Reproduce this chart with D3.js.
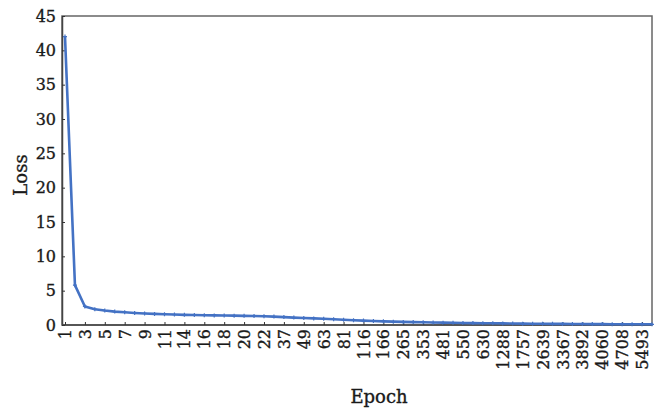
<!DOCTYPE html>
<html><head><meta charset="utf-8">
<script src="https://cdn.jsdelivr.net/npm/d3@7"></script>
<style>body{margin:0;background:#fff}svg text{font-family:"DejaVu Serif",serif;fill:#1a1a1a;stroke:#1a1a1a;stroke-width:0.35px}</style>
</head><body><svg id="c" width="663" height="410"></svg>
<script>
const epochs = [1,2,3,4,5,6,7,8,9,10,11,12,14,15,16,17,18,19,20,21,22,30,37,43,49,56,63,72,81,98,116,140,166,210,265,310,353,420,481,515,550,590,630,950,1288,1500,1757,2200,2639,3000,3367,3600,3892,3980,4060,4400,4708,5100,5493,5800];
const loss = [42.0,5.8,2.7,2.3,2.1,1.95,1.85,1.75,1.68,1.62,1.56,1.52,1.48,1.45,1.42,1.40,1.38,1.36,1.33,1.31,1.28,1.22,1.15,1.08,1.02,0.96,0.90,0.83,0.76,0.70,0.64,0.58,0.53,0.49,0.45,0.42,0.39,0.36,0.34,0.32,0.30,0.28,0.26,0.25,0.23,0.22,0.20,0.19,0.18,0.17,0.16,0.15,0.14,0.13,0.13,0.12,0.12,0.11,0.11,0.10];
const yTicks = [0,5,10,15,20,25,30,35,40,45];
const xLabelEvery = 2;

const svg = d3.select("#c");
const L = 62, R = 652, T = 16, B = 325;
const x = d3.scalePoint().domain(epochs.map(String)).range([65, R]);
const y = d3.scaleLinear().domain([0,45]).range([B, T]);

// frame
svg.append("rect").attr("x",L).attr("y",T).attr("width",R-L).attr("height",B-T)
  .attr("fill","none").attr("stroke","#666").attr("stroke-width",1.5);

const xAxis = d3.axisBottom(x).tickSizeInner(-3).tickSizeOuter(0)
  .tickValues(epochs.filter((d,i)=>i%xLabelEvery===0).map(String));
const gx = svg.append("g").attr("transform",`translate(0,${B})`).call(xAxis);
gx.select(".domain").attr("stroke","#444").attr("stroke-width",1.5).attr("d",`M${L},0H${R}`);
gx.selectAll(".tick line").attr("stroke","#333");
gx.selectAll(".tick text").attr("transform","rotate(-90)").attr("text-anchor","end")
  .attr("x",-4).attr("y",0).attr("dy","0.35em").style("font-size","16px");

const yAxis = d3.axisLeft(y).tickValues(yTicks).tickSizeInner(-3).tickSizeOuter(0);
const gy = svg.append("g").attr("transform",`translate(${L},0)`).call(yAxis);
gy.select(".domain").attr("stroke","#444").attr("stroke-width",1.5);
gy.selectAll(".tick line").attr("stroke","#333");
gy.selectAll(".tick text").attr("x",-6).style("font-size","16px");

const line = d3.line().x((d,i)=>x(String(epochs[i]))).y(d=>y(d));
svg.append("path").datum(loss).attr("d",line).attr("fill","none")
  .attr("stroke","#4472C4").attr("stroke-width",2.6).attr("stroke-linejoin","round");
svg.append("g").selectAll("path").data(loss).join("path")
  .attr("d",(d,i)=>{const cx=x(String(epochs[i])),cy=y(d);return `M${cx-2},${cy}H${cx+2}M${cx},${cy-2}V${cy+2}`;})
  .attr("stroke","#4472C4").attr("stroke-width",1.2);

svg.append("text").attr("x",379).attr("y",403).attr("text-anchor","middle")
  .style("font-size","18px").text("Epoch");
svg.append("text").attr("transform","translate(27,175) rotate(-90)").attr("text-anchor","middle")
  .style("font-size","18px").text("Loss");
</script></body></html>
